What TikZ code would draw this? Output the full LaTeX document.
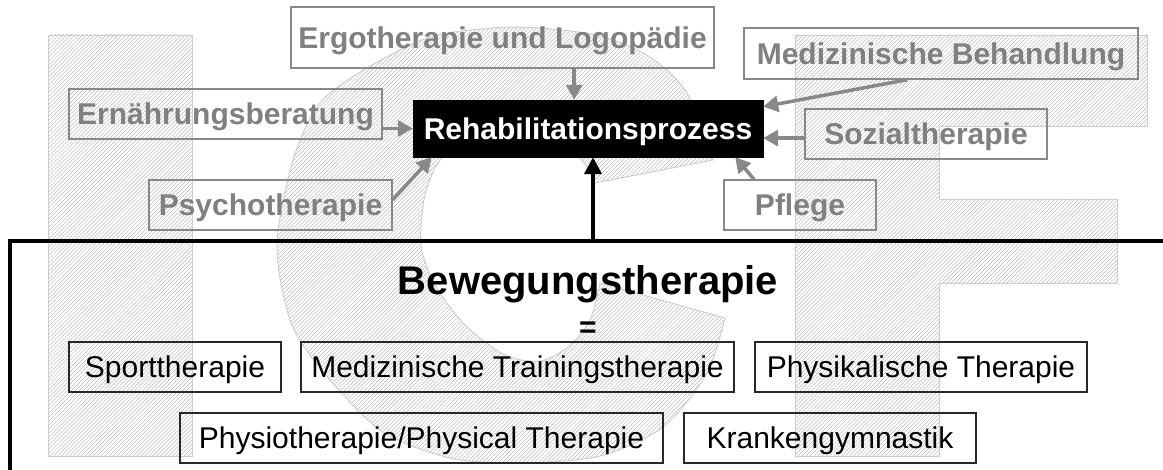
\documentclass[tikz,border=0pt]{standalone}
\usepackage{fontspec}
\setmainfont{Liberation Sans}
\usetikzlibrary{arrows.meta,patterns.meta,calc}
\definecolor{gtext}{RGB}{128,128,128}
\definecolor{gline}{RGB}{136,136,136}
\definecolor{bline}{RGB}{40,40,40}
\definecolor{hatchc}{RGB}{185,185,185}
\definecolor{hatchline}{RGB}{205,205,205}
\begin{document}
\begin{tikzpicture}[x=1pt,y=-1pt,
  hatch/.style={draw=hatchline, line width=0.9pt, pattern={Lines[angle=45,distance=2.8pt,line width=0.5pt]}, pattern color=hatchc},
  gbox/.style={draw=gline, line width=1.5pt, text=gtext, font=\fontsize{30}{36}\selectfont\bfseries, inner sep=0pt, text height=21.5pt, text depth=0pt},
  bbox/.style={draw=bline, line width=1.2pt, text=black, font=\fontsize{30}{36}\selectfont, inner sep=0pt, text height=21.5pt, text depth=0pt},
  rbox/.style={draw=black, fill=black, text=white, font=\fontsize{30}{36}\selectfont\bfseries, inner sep=0pt, text height=21.5pt, text depth=0pt},
  garrow/.style={draw=gline, line width=3.5pt, -{Triangle[length=15pt,width=16pt]}},
  barrow/.style={draw=black, line width=4pt, -{Triangle[length=17pt,width=17pt]}}]
\useasboundingbox (0,0) rectangle (1163,470);
\fill[white] (0,0) rectangle (1163,470);
% background letters I C F
\path[hatch] (48,35) rectangle (192,456);
\path[hatch] (795,35) -- (1147,35) -- (1147,126) -- (939,126) -- (939,199) -- (1117,199)
  -- (1117,283) -- (939,283) -- (939,456) -- (795,456) -- cycle;
\path[hatch] plot[smooth] coordinates {(713,160) (687,93) (650,57) (600,36) (540,28) (493,28) (430,37) (367,68) (320,103) (293,160) (277,245) (290,320) (320,368) (380,430) (450,458) (520,463) (600,456) (663,427) (707,373) (725,318)}
  -- plot[smooth] coordinates {(600,283) (590,320) (568,347) (540,361) (505,355) (465,325) (435,285) (421,245) (425,195) (440,160) (470,133) (510,125) (555,135) (582,160) (595,183)}
  -- cycle;
% top nodes
\node[rbox, minimum width=350pt, minimum height=57pt] (reha) at (588,128.5) {Rehabilitationsprozess};
\node[gbox, minimum width=423pt, minimum height=61pt] (ergo) at (502.5,37.5) {Ergotherapie und Logopädie};
\node[gbox, minimum width=313pt, minimum height=50pt] (ern) at (225.5,114) {Ernährungsberatung};
\node[gbox, minimum width=243pt, minimum height=50pt] (psy) at (270.5,205) {Psychotherapie};
\node[gbox, minimum width=394pt, minimum height=51pt] (med) at (941,53.5) {Medizinische Behandlung};
\node[gbox, minimum width=242pt, minimum height=50pt] (soz) at (926,134) {Sozialtherapie};
\node[gbox, minimum width=152pt, minimum height=50pt] (pfl) at (800,205) {Pflege};
% grey arrows
\draw[garrow] ($(ergo.south west)!0.669!(ergo.south east)$) coordinate (e1) -- (e1 |- reha.north);
\draw[garrow] (ern.east |- reha.west) -- (reha.west);
\draw[garrow] ($(psy.north east)!0.4!(psy.south east)$) -- ($(reha.south west)!0.054!(reha.south east)$);
\draw[garrow] ($(med.south west)!0.414!(med.south east)$) -- ($(reha.north east)!0.12!(reha.south east)$);
\draw[garrow] ($(soz.north west)!0.58!(soz.south west)$) coordinate (s1) -- (s1 -| reha.east);
\draw[garrow] ($(pfl.north west)!0.2!(pfl.north east)$) -- ($(reha.south west)!0.92!(reha.south east)$);
% frame
\draw[line width=4pt] (1170,241.5) -- (9.5,241.5) -- (9.5,480);
\coordinate (ftop) at (593,241.5);
\draw[barrow] (ftop) -- (ftop |- reha.south);
% Bewegungstherapie
\node[font=\fontsize{40}{48}\selectfont\bfseries, inner sep=0pt, text height=28.6pt, text depth=0pt] (bew) at (588,280) {Bewegungstherapie};
\node[font=\fontsize{30}{36}\selectfont\bfseries, inner sep=0pt, anchor=base] (eq) at (588,337.5) {=};
\node[bbox, minimum width=212pt, minimum height=50pt] (sport) at (175,367) {Sporttherapie};
\node[bbox, minimum width=433pt, minimum height=50pt] (mtt) at (517.5,367) {Medizinische Trainingstherapie};
\node[bbox, minimum width=332pt, minimum height=50pt] (phys) at (921,367) {Physikalische Therapie};
\node[bbox, minimum width=483pt, minimum height=50pt] (physio) at (421.5,438) {Physiotherapie/Physical Therapie};
\node[bbox, minimum width=292pt, minimum height=50pt] (kg) at (830,438) {Krankengymnastik};
\end{tikzpicture}
\end{document}
